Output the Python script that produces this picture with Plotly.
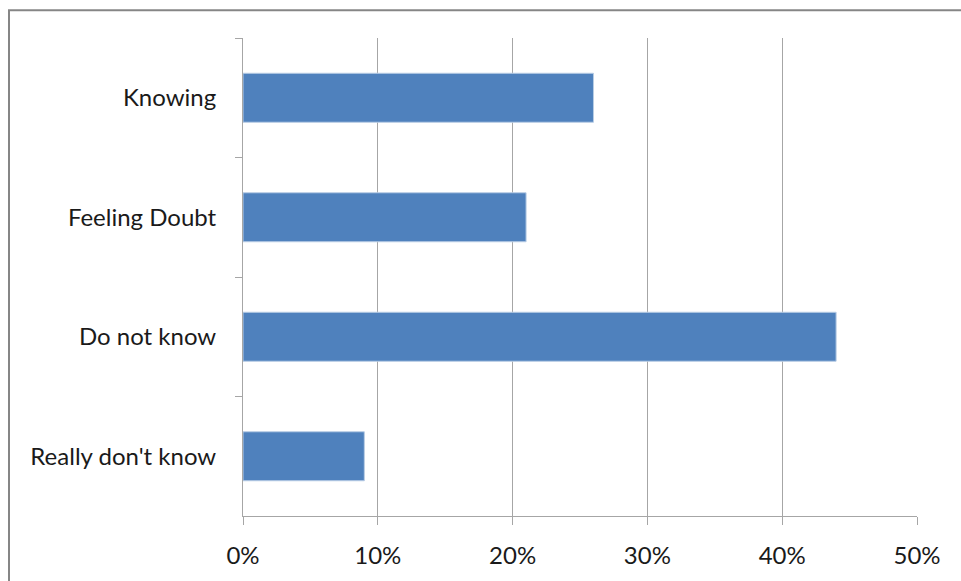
import plotly.graph_objects as go

categories = ["Knowing", "Feeling Doubt", "Do not know", "Really don't know"]
values = [0.26, 0.21, 0.44, 0.09]
x_ticks = [0, 0.1, 0.2, 0.3, 0.4, 0.5]

W, H = 961, 581
L, R, T, B = 243, 44, 38, 62
pw, ph = W - L - R, H - T - B

fig = go.Figure(go.Bar(
    x=values, y=categories, orientation="h",
    marker=dict(color="#4F81BD", line=dict(color="#B9CDE5", width=1)),
    width=0.41,
))

font = dict(family="Lato, 'Open Sans', sans-serif", size=24, color="#1a1a1a")

fig.update_layout(
    width=W, height=H,
    margin=dict(l=L, r=R, t=T, b=B, pad=0),
    paper_bgcolor="white", plot_bgcolor="white",
    showlegend=False,
    font=font,
    xaxis=dict(
        range=[0, 0.5], tickvals=x_ticks, tickformat=".0%",
        showgrid=True, gridcolor="#A6A6A6", gridwidth=1,
        showline=True, linecolor="#A6A6A6", linewidth=1,
        ticks="outside", ticklen=8, tickcolor="#A6A6A6",
        ticklabelstandoff=10, zeroline=False, fixedrange=True,
    ),
    yaxis=dict(
        type="category", categoryorder="array", categoryarray=categories,
        autorange="reversed", tickson="boundaries",
        showgrid=False, showline=True, linecolor="#A6A6A6", linewidth=1,
        ticks="outside", ticklen=7, tickcolor="#A6A6A6",
        ticklabelstandoff=21, fixedrange=True,
    ),
    shapes=[dict(
        type="rect", xref="paper", yref="paper",
        x0=(9 - L) / pw, x1=(W + 10 - L) / pw,
        y0=(H - B - (H + 10)) / ph, y1=1 + (T - 10) / ph,
        line=dict(color="#868686", width=2), fillcolor="rgba(0,0,0,0)",
        layer="above",
    )],
)

fig.write_html("out.html")
